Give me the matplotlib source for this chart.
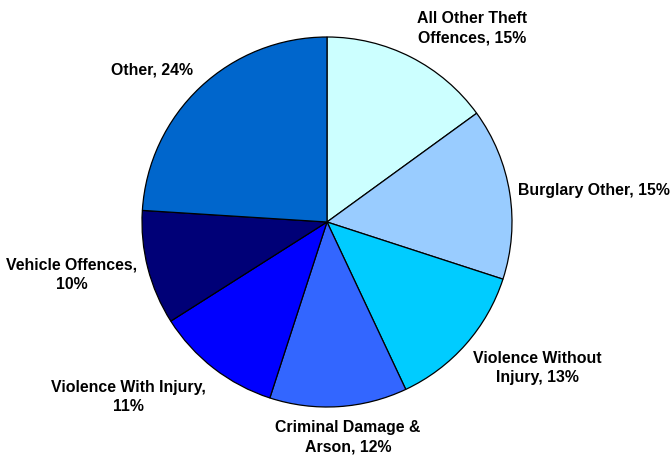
import matplotlib
matplotlib.use("Agg")
import matplotlib.pyplot as plt

categories = [
    "All Other Theft\nOffences",
    "Burglary Other",
    "Violence Without\nInjury",
    "Criminal Damage &\nArson",
    "Violence With Injury,\n",
    "Vehicle Offences,\n",
    "Other",
]
shares = [15, 15, 13, 12, 11, 10, 24]
colors = ["#CCFFFF", "#99CCFF", "#00CCFF", "#3366FF", "#0000FF", "#000077", "#0066CC"]

# label anchor points (figure pixels, y from top)
label_pos = [(472, 28), (594, 191), (537, 368), (348, 437), (128, 397), (72, 275), (152, 70)]

W, H = 672, 455
fig = plt.figure(figsize=(W / 100, H / 100), dpi=100)
ax = fig.add_axes([0, 0, 1, 1])

cx, cy, r = 327, H - 222, 185
ax.pie(shares, colors=colors, startangle=90, counterclock=False,
       center=(cx, cy), radius=r,
       wedgeprops=dict(edgecolor="black", linewidth=0.9))
ax.set_xlim(0, W)
ax.set_ylim(0, H)
ax.set_aspect("equal")
ax.axis("off")

for name, val, (x, y) in zip(categories, shares, label_pos):
    if name.endswith("\n"):
        text = f"{name}{val}%"
    else:
        text = f"{name}, {val}%"
    ax.text(x, H - y, text, ha="center", va="center", fontsize=11.4,
            fontweight="bold", family="Liberation Sans", linespacing=1.35,
            color="black")

fig.savefig("out.png", dpi=100)
